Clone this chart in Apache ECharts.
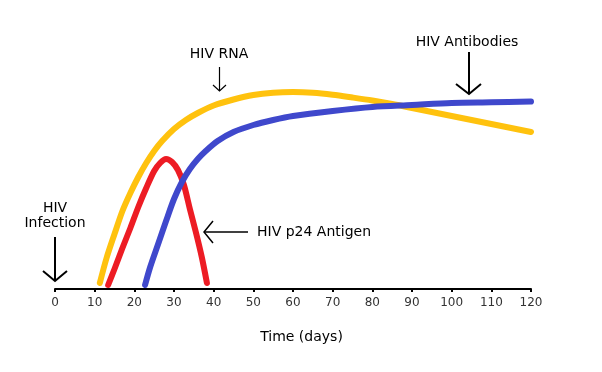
<!DOCTYPE html>
<html>
<head>
<meta charset="utf-8">
<script src="https://cdn.jsdelivr.net/npm/echarts@6/dist/echarts.min.js"></script>
<style>
html,body{margin:0;padding:0;background:#fff;}
#c{width:602px;height:372px;}
</style>
</head>
<body>
<div id="c"></div>
<script>
// x-axis ticks (days)
var xTicks = [0,10,20,30,40,50,60,70,80,90,100,110,120];
// HIV RNA (yellow) [day, level]
var rnaData = [[11.3,6],[13,31],[15,55],[17,78],[19,96],[21,112],[23,126],[25,138],[27,148],[30,160],[33,169],[36,176],[40,183.5],[45,189.5],[50,194],[55,196.3],[60,197],[65,196.3],[70,194.3],[75,191.5],[80,188.5],[85,185],[90,181],[95,177],[100,173],[105,169],[110,165],[115,161],[120,157]];
// HIV p24 Antigen (red)
var p24Data = [[13.4,4],[15,20],[17,41],[19,61],[21,82],[23,101],[25,118],[26.5,126],[28,130],[29.5,127],[31,119],[32.5,104],[34,80],[35.5,57],[37,32],[38.3,6]];
// HIV Antibodies (blue)
var abData = [[22.7,4],[24,22],[26,45],[28,68],[30,90],[32,107],[34,120],[36,130],[38,138],[41,148],[45,157],[50,164],[55,169],[60,173],[70,178],[80,182],[90,184],[100,186],[110,186.7],[120,187.5]];
// Labels
var seriesNames = ['HIV RNA','HIV p24 Antigen','HIV Antibodies'];
var axisTitle = 'Time (days)';

var FONT = 'DejaVu Sans';
var chart = echarts.init(document.getElementById('c'));

function arrowGraphic(pts, w){
  return {type:'polyline', shape:{points:pts}, style:{stroke:'#000', lineWidth:w, fill:null}, z:10};
}
function textGraphic(txt, x, y, align){
  return {type:'text', x:x, y:y, style:{text:txt, font:'14px "'+FONT+'"', fill:'#000', align:align||'center', verticalAlign:'middle'}, z:10};
}

chart.setOption({
  animation:false,
  backgroundColor:'#fff',
  grid:{left:55, right:71, top:19, bottom:83},
  xAxis:{
    type:'value', min:xTicks[0], max:xTicks[xTicks.length-1], interval:xTicks[1]-xTicks[0],
    axisLine:{lineStyle:{color:'#000', width:2}},
    axisTick:{length:3, lineStyle:{color:'#000', width:2}},
    splitLine:{show:false},
    axisLabel:{color:'#333', fontSize:12, fontFamily:FONT, margin:8},
    name:axisTitle, nameLocation:'middle', nameGap:41,
    nameTextStyle:{fontFamily:FONT, fontSize:14, color:'#000', padding:[0,0,0,17]}
  },
  yAxis:{type:'value', min:0, max:270, show:false},
  series:[
    {name:seriesNames[0], type:'line', data:rnaData, smooth:0.3, showSymbol:false,
      lineStyle:{color:'#FFC20E', width:6, cap:'round', join:'round'}},
    {name:seriesNames[1], type:'line', data:p24Data, smooth:0.3, showSymbol:false,
      lineStyle:{color:'#ED1C24', width:6, cap:'round', join:'round'}},
    {name:seriesNames[2], type:'line', data:abData, smooth:0.3, showSymbol:false,
      lineStyle:{color:'#3F48CC', width:6, cap:'round', join:'round'}}
  ],
  graphic:[
    textGraphic('HIV', 55, 208),
    textGraphic('Infection', 55, 223),
    arrowGraphic([[55,237],[55,281]], 2),
    arrowGraphic([[43,271],[55,281],[67,271]], 2),
    textGraphic(seriesNames[0], 219, 54),
    arrowGraphic([[219.5,67],[219.5,91]], 1.2),
    arrowGraphic([[213,85],[219.5,91],[226,85]], 1.2),
    textGraphic(seriesNames[2], 467, 42),
    arrowGraphic([[469,52],[469,94]], 2),
    arrowGraphic([[456,84],[469,94],[481,84]], 2),
    textGraphic(seriesNames[1], 257, 232, 'left'),
    arrowGraphic([[204,232],[248,232]], 1.5),
    arrowGraphic([[213,221],[204,232],[213,243]], 1.5)
  ]
});
</script>
</body>
</html>
